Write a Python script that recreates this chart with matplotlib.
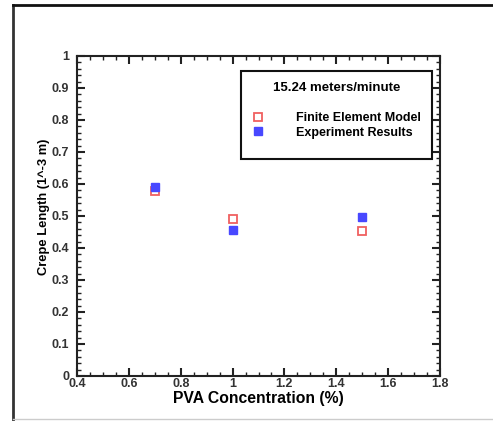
import matplotlib
matplotlib.use("Agg")
import matplotlib.pyplot as plt
from matplotlib.lines import Line2D
from matplotlib.patches import Rectangle
from matplotlib.ticker import MultipleLocator

# Crepe length vs PVA concentration at 15.24 meters/minute
pva = [0.7, 1.0, 1.5]
fem_length = [0.577, 0.49, 0.452]
exp_length = [0.592, 0.455, 0.497]

x_ticks = [0.4, 0.6, 0.8, 1.0, 1.2, 1.4, 1.6, 1.8]
x_labels = ["0.4", "0.6", "0.8", "1", "1.2", "1.4", "1.6", "1.8"]
y_ticks = [0, 0.1, 0.2, 0.3, 0.4, 0.5, 0.6, 0.7, 0.8, 0.9, 1.0]
y_labels = ["0", "0.1", "0.2", "0.3", "0.4", "0.5", "0.6", "0.7", "0.8", "0.9", "1"]

plt.rcParams['font.family'] = ['Liberation Sans', 'DejaVu Sans']
plt.rcParams['font.weight'] = 'bold'

W, H = 493, 421
fig = plt.figure(figsize=(W / 100, H / 100), dpi=100)
fig.patch.set_facecolor('white')


def px(x, y):
    """Figure pixel position (from top-left) to figure fraction."""
    return x / W, 1 - y / H


ax = fig.add_axes([77 / W, 1 - 376 / H, (440 - 77) / W, (376 - 56) / H])

ax.plot(pva, fem_length, linestyle='none', marker='s', markersize=6,
        markerfacecolor='white', markeredgecolor='#f06060', markeredgewidth=1.3,
        label='Finite Element Model')
ax.plot(pva, exp_length, linestyle='none', marker='s', markersize=6,
        markerfacecolor='#4848ff', markeredgecolor='#4848ff',
        label='Experiment Results')

ax.set_xlim(0.4, 1.8)
ax.set_ylim(0, 1)
ax.set_xticks(x_ticks)
ax.set_xticklabels(x_labels)
ax.set_yticks(y_ticks)
ax.set_yticklabels(y_labels)
ax.xaxis.set_minor_locator(MultipleLocator(0.05))
ax.yaxis.set_minor_locator(MultipleLocator(0.02))

ax.tick_params(which='both', direction='in', top=True, right=True,
               labelsize=9, width=1.0, color='#222222')
ax.tick_params(axis='x', which='both', pad=1.5)
ax.tick_params(axis='y', which='both', pad=5.5)
ax.tick_params(which='major', length=6, width=1.5)
ax.tick_params(which='minor', length=3)
for lbl in ax.get_xticklabels() + ax.get_yticklabels():
    lbl.set_fontweight('bold')
    lbl.set_color('#333333')
for sp in ax.spines.values():
    sp.set_linewidth(1.5)
    sp.set_color('#222222')

ax.set_xlabel('PVA Concentration (%)', fontsize=11.3, fontweight='bold', labelpad=1)
ax.set_ylabel('Crepe Length (1^-3 m)', fontsize=9.3, fontweight='bold')
ax.yaxis.set_label_coords(-0.075, 0.53)

# legend frame, drawn under the legend contents
x0, y0 = px(241, 159)
x1, y1 = px(432, 71)
ax.add_patch(Rectangle((x0, y0), x1 - x0, y1 - y0, transform=fig.transFigure,
                       facecolor='white', edgecolor='#111111', linewidth=1.5,
                       clip_on=False, zorder=4))

leg = ax.legend(loc='upper left', bbox_to_anchor=px(253, 82),
                bbox_transform=fig.transFigure,
                title='15.24 meters/minute', frameon=False,
                fontsize=9, title_fontsize=9.5, handletextpad=2.6, handlelength=0.8,
                borderpad=0, labelspacing=0.2, borderaxespad=0)
leg._legend_box.sep = 13
leg.set_zorder(5)
for t in leg.get_texts():
    t.set_fontweight('bold')
leg.get_title().set_fontweight('bold')

# outer frame around the panel
fig.add_artist(Line2D([13 / W, 13 / W], [0.0, 1 - 5 / H], transform=fig.transFigure,
                      color='#333333', linewidth=2))
fig.add_artist(Line2D([13 / W, 1.0], [1 - 5 / H, 1 - 5 / H], transform=fig.transFigure,
                      color='#111111', linewidth=2))
fig.add_artist(Line2D([13 / W, 1.0], [1 - 419 / H, 1 - 419 / H], transform=fig.transFigure,
                      color='#cccccc', linewidth=1))

fig.savefig('out.png', dpi=100)
